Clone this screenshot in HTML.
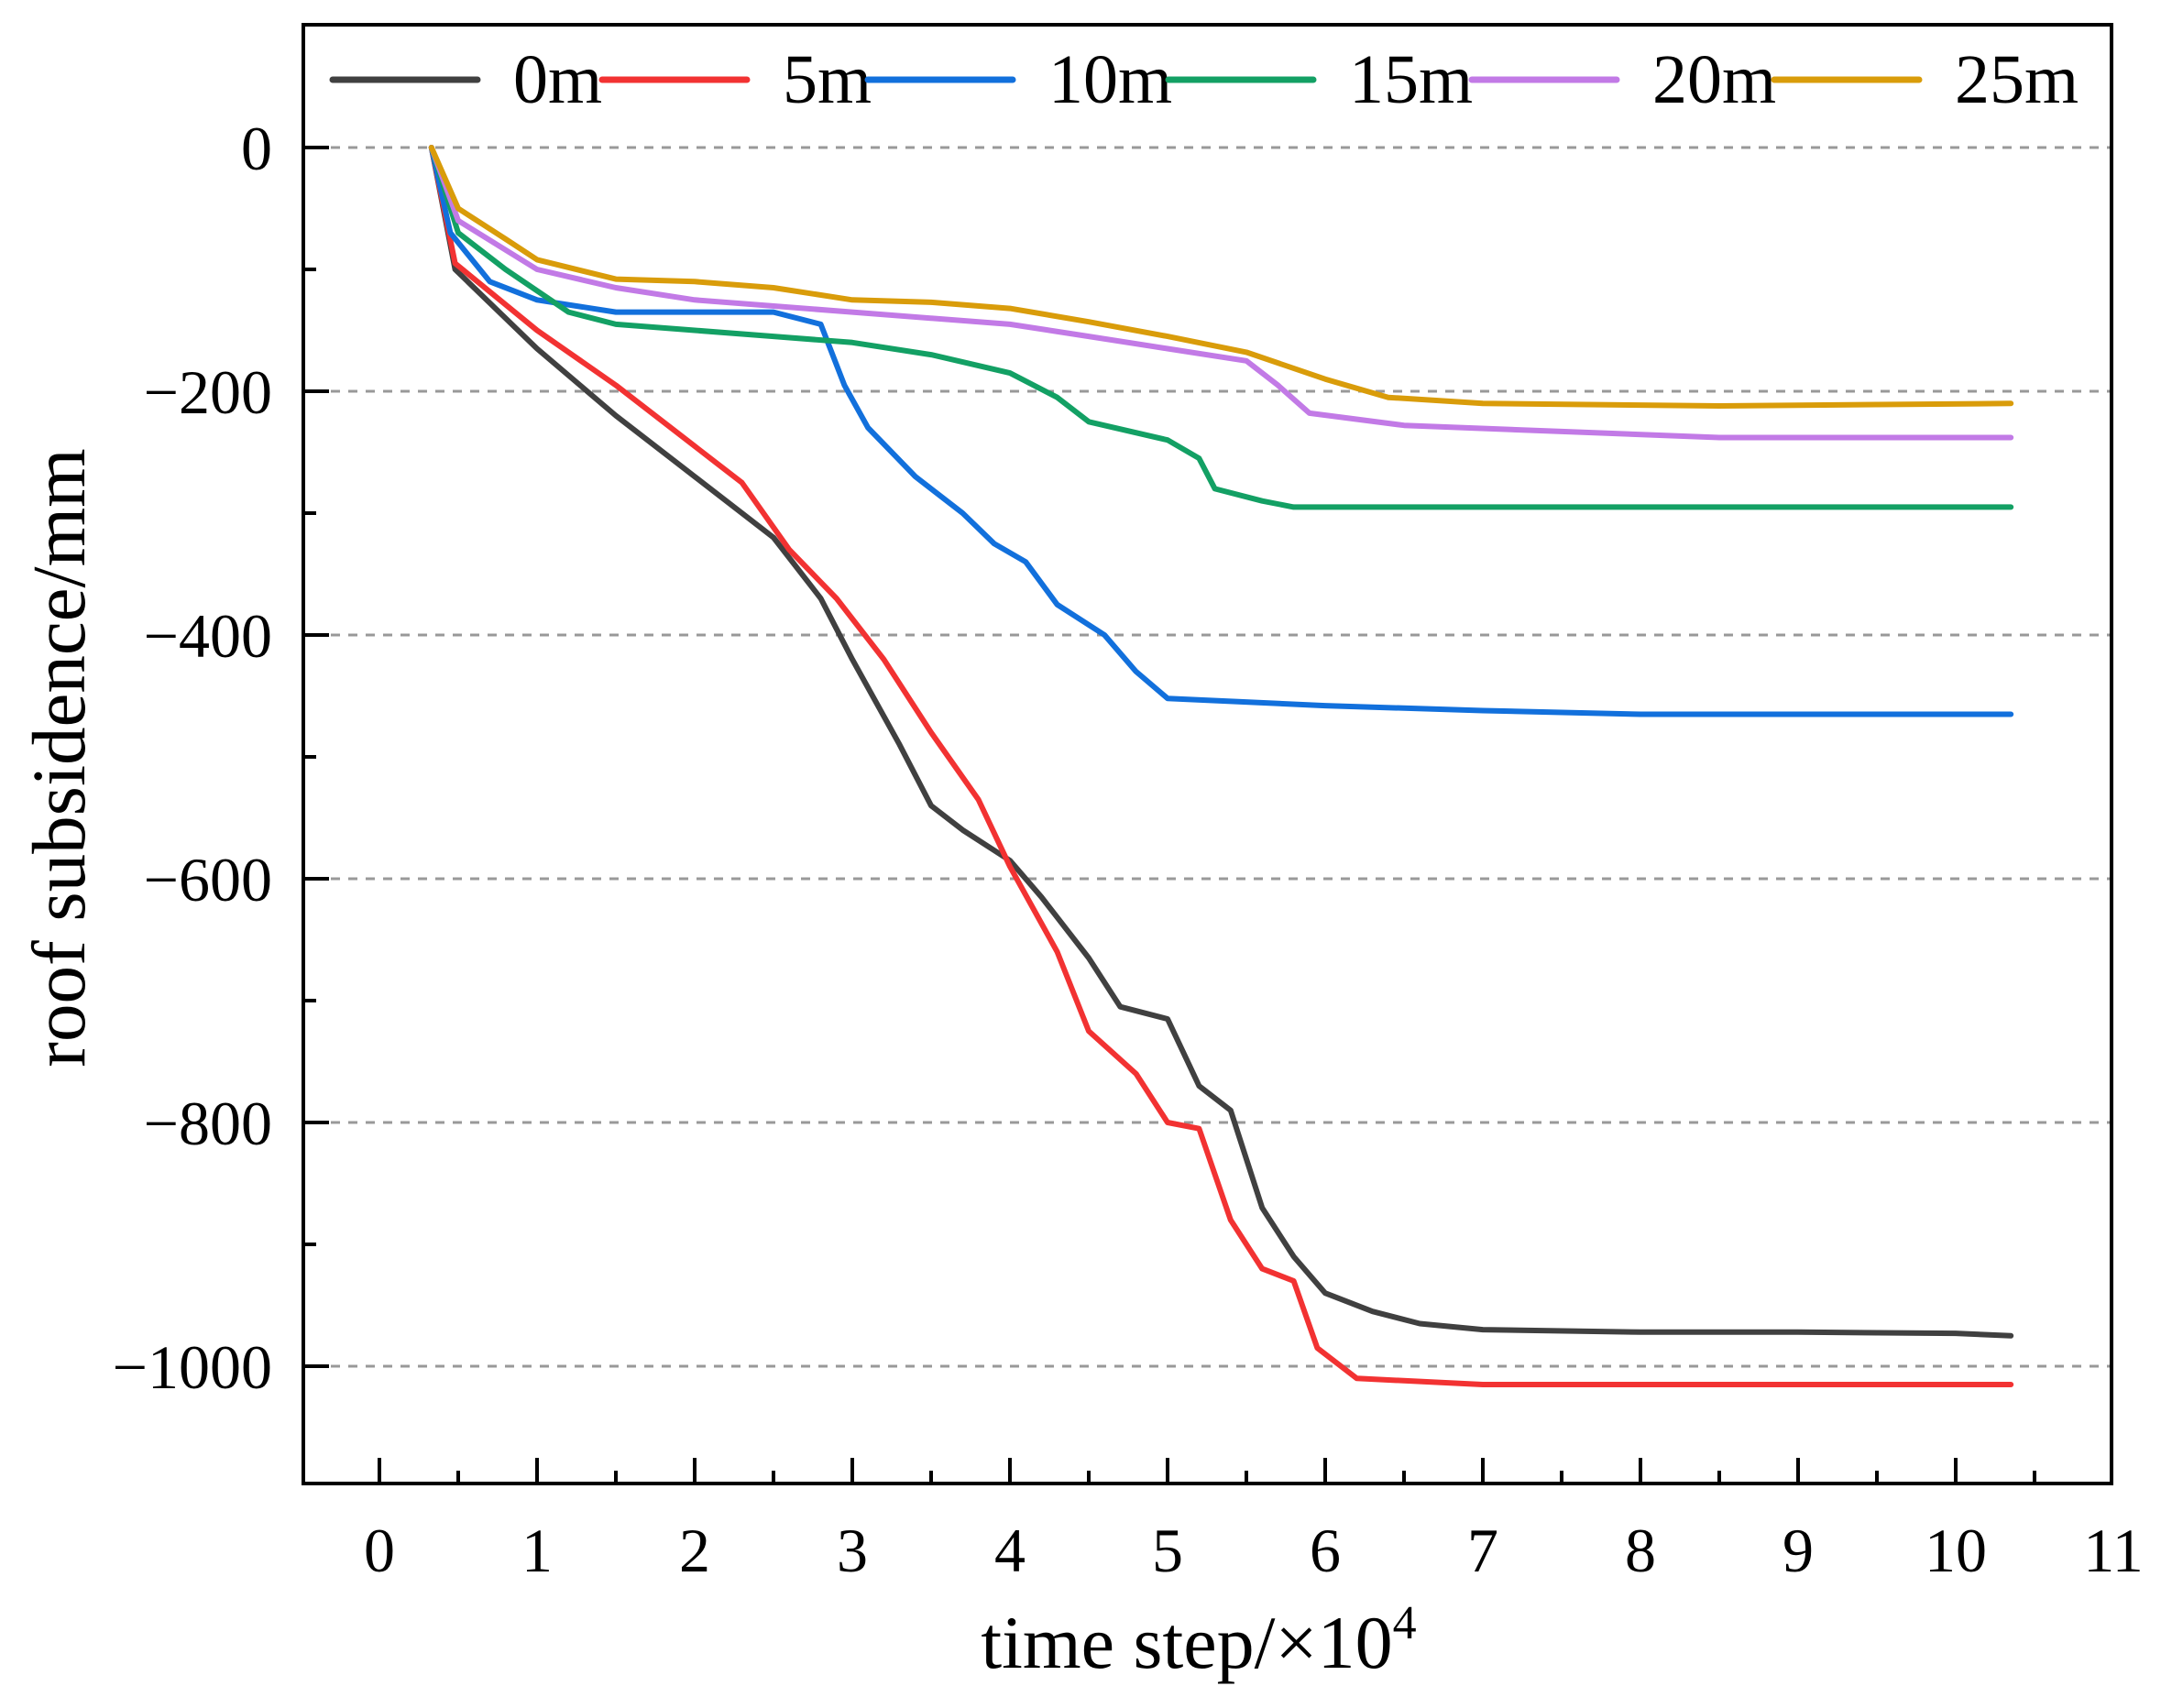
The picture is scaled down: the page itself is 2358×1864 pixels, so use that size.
<!DOCTYPE html>
<html><head><meta charset="utf-8"><style>
html,body{margin:0;padding:0;background:#fff;}
svg{display:block;font-family:"Liberation Serif",serif;}
</style></head><body>
<svg id="chart" width="2358" height="1864" viewBox="0 0 2358 1864">
<g id="grid"></g>
<g id="series"></g>
<g id="axes"></g>
<g id="legend"></g>
<text x="1308" y="1820" font-size="82" text-anchor="middle">time step/×10<tspan dy="-32" font-size="52">4</tspan></text>
<text transform="translate(92,827) rotate(-90)" font-size="83" text-anchor="middle">roof subsidence/mm</text>
</svg>
<script>
const xTicks = [0,1,2,3,4,5,6,7,8,9,10,11];
const yTicks = [0,-200,-400,-600,-800,-1000];
const seriesNames = ["0m","5m","10m","15m","20m","25m"];
const seriesColors = ["#404040","#f23232","#1270dc","#13a064","#c27ae6","#d99c0a"];
const t0 = [0.33,0.48,1.0,1.5,2.0,2.5,2.8,3.0,3.3,3.5,3.7,4.0,4.2,4.5,4.7,5.0,5.2,5.4,5.6,5.8,6.0,6.3,6.6,7.0,8.0,9.0,10.0,10.35];
const v0 = [0,-100,-165,-220,-270,-320,-370,-420,-490,-540,-560,-585,-615,-665,-705,-715,-770,-790,-870,-910,-940,-955,-965,-970,-972,-972,-973,-975];
const t5 = [0.33,0.48,1.0,1.5,2.0,2.3,2.6,2.9,3.2,3.5,3.8,4.0,4.3,4.5,4.8,5.0,5.2,5.4,5.6,5.8,5.95,6.2,7.0,10.35];
const v5 = [0,-95,-150,-195,-245,-275,-330,-370,-420,-480,-535,-590,-660,-725,-760,-800,-805,-880,-920,-930,-985,-1010,-1015,-1015];
const t10 = [0.33,0.45,0.7,1.0,1.5,2.0,2.5,2.8,2.95,3.1,3.4,3.7,3.9,4.1,4.3,4.6,4.8,5.0,6.0,7.0,8.0,10.35];
const v10 = [0,-70,-110,-125,-135,-135,-135,-145,-195,-230,-270,-300,-325,-340,-375,-400,-430,-452,-458,-462,-465,-465];
const t15 = [0.33,0.5,0.8,1.2,1.5,2.0,2.5,3.0,3.5,4.0,4.3,4.5,5.0,5.2,5.3,5.6,5.8,10.35];
const v15 = [0,-70,-100,-135,-145,-150,-155,-160,-170,-185,-205,-225,-240,-255,-280,-290,-295,-295];
const t20 = [0.33,0.5,1.0,1.5,2.0,3.0,4.0,4.5,5.0,5.5,5.7,5.9,6.5,7.5,8.5,10.35];
const v20 = [0,-60,-100,-115,-125,-135,-145,-155,-165,-175,-195,-218,-228,-233,-238,-238];
const t25 = [0.33,0.5,0.8,1.0,1.5,2.0,2.5,3.0,3.5,4.0,4.5,5.0,5.5,6.0,6.4,7.0,8.5,10.35];
const v25 = [0,-50,-75,-92,-108,-110,-115,-125,-127,-132,-143,-155,-168,-190,-205,-210,-212,-210];
const seriesT = [t0,t5,t10,t15,t20,t25];
const seriesV = [v0,v5,v10,v15,v20,v25];

const NS="http://www.w3.org/2000/svg";
const L=331,R=2304,T=27,B=1619;
const xs=t=>414+t*172;
const ys=v=>161-v*1.33;
function mk(tag,attrs,parent){const e=document.createElementNS(NS,tag);for(const k in attrs)e.setAttribute(k,attrs[k]);parent.appendChild(e);return e;}
const grid=document.getElementById('grid'),axes=document.getElementById('axes'),ser=document.getElementById('series'),leg=document.getElementById('legend');
yTicks.forEach(v=>{
  const g=mk('line',{x1:L+30,x2:R,y1:ys(v),y2:ys(v),stroke:'#999','stroke-width':3,'stroke-dasharray':'10 9'},grid);
  
  
  const tk=mk('line',{x1:L,x2:L+28,y1:ys(v),y2:ys(v),stroke:'#000','stroke-width':4},axes);
  
  
  const tx=mk('text',{x:297,y:ys(v)+24,'font-size':68,'text-anchor':'end'},axes);
  tx.textContent=v===0?'0':'−'+Math.abs(v);
  
  
});
for(let k=0;k<5;k++){const v=-100-200*k;
  const m=mk('line',{x1:L,x2:L+14,y1:ys(v),y2:ys(v),stroke:'#000','stroke-width':4},axes);
  
  }
xTicks.forEach(t=>{
  if(t<11){const tk=mk('line',{x1:xs(t),x2:xs(t),y1:B,y2:B-28,stroke:'#000','stroke-width':4},axes);
  
  
  const m=mk('line',{x1:xs(t+0.5),x2:xs(t+0.5),y1:B,y2:B-14,stroke:'#000','stroke-width':4},axes);
  
  }
  const tx=mk('text',{x:xs(t),y:1715,'font-size':68,'text-anchor':'middle'},axes);
  tx.textContent=String(t);
  
  
});
const frame=mk('rect',{x:L,y:T,width:R-L,height:B-T,fill:'none',stroke:'#000','stroke-width':4},axes);


seriesT.forEach((ts,i)=>{
  const d=ts.map((t,j)=>(j?'L':'M')+xs(t).toFixed(1)+' '+ys(seriesV[i][j]).toFixed(1)).join(' ');
  const p=mk('path',{d:d,fill:'none',stroke:seriesColors[i],'stroke-width':6,'stroke-linejoin':'round','stroke-linecap':'round'},ser);
  
  
});
const legX=[363,657,947,1275,1606,1936];
seriesNames.forEach((n,i)=>{
  const ln=mk('line',{x1:legX[i],x2:legX[i]+158,y1:87,y2:87,stroke:seriesColors[i],'stroke-width':7,'stroke-linecap':'round'},leg);
  
  
  const tx=mk('text',{x:legX[i]+197,y:112,'font-size':76},leg);
  tx.textContent=n;
  
  
});
</script>
</body></html>
